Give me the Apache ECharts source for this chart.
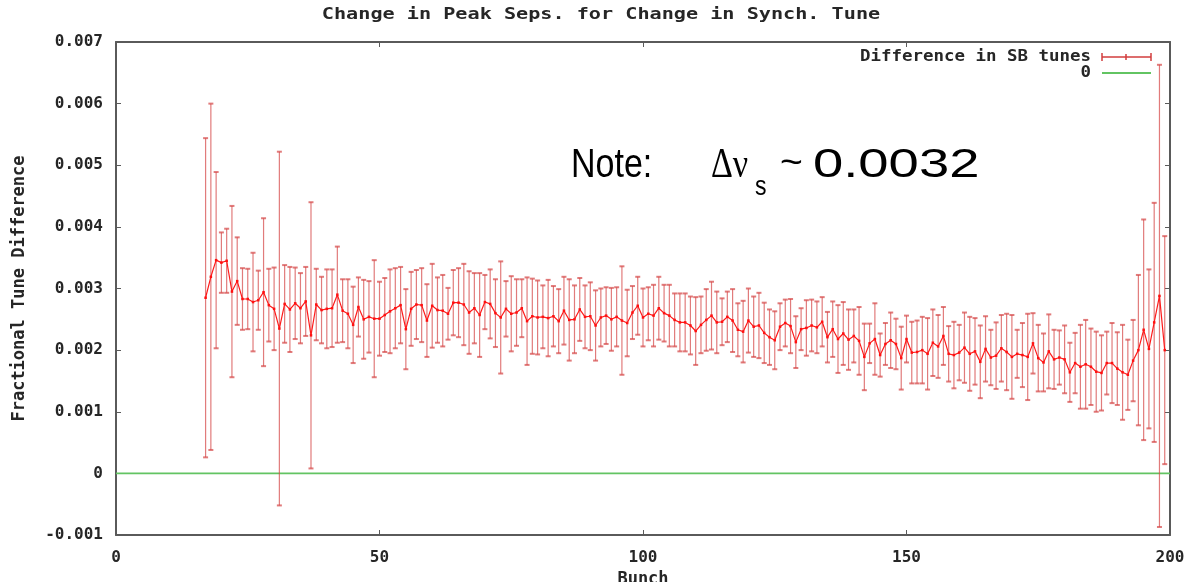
<!DOCTYPE html>
<html><head><meta charset="utf-8">
<script src="https://cdn.jsdelivr.net/npm/echarts@6/dist/echarts.min.js"></script>
<style>html,body{margin:0;padding:0;background:#fff}#c{width:1202px;height:582px}</style>
</head><body><div id="c"></div>
<script>
const titleText = 'Change in Peak Seps. for Change in Synch. Tune';
const xAxisName = 'Bunch';
const yAxisName = 'Fractional Tune Difference';
const seriesNames = ['Difference in SB tunes', '0'];
const noteParts = ['Note:', '\u0394\u03bd', 's', '~', '0.0032'];
const xTickValues = [0, 50, 100, 150, 200];
const yTickValues = [-0.001, 0, 0.001, 0.002, 0.003, 0.004, 0.005, 0.006, 0.007];
const yTickLabels = ['-0.001', '0', '0.001', '0.002', '0.003', '0.004', '0.005', '0.006', '0.007'];

const bunches = [17,18,19,20,21,22,23,24,25,26,27,28,29,30,31,32,33,34,35,36,37,38,39,40,41,42,43,44,45,46,47,48,49,50,
51,52,53,54,55,56,57,58,59,60,61,62,63,64,65,66,67,68,69,70,71,72,73,74,75,76,77,78,79,80,81,82,83,84,85,86,87,88,89,90,
91,92,93,94,95,96,97,98,99,100,101,102,103,104,105,106,107,108,109,110,111,112,113,114,115,116,117,118,119,120,
121,122,123,124,125,126,127,128,129,130,131,132,133,134,135,136,137,138,139,140,141,142,143,144,145,146,147,148,149,150,
151,152,153,154,155,156,157,158,159,160,161,162,163,164,165,166,167,168,169,170,171,172,173,174,175,176,177,178,179,180,
181,182,183,184,185,186,187,188,189,190,191,192,193,194,195,196,197,198,199];

const tuneDiff = [
0.00285,0.00319,0.00346,0.00342,0.00345,0.00295,0.00312,0.00283,0.00283,0.00278,
0.00281,0.00294,0.00273,0.00267,0.00235,0.00275,0.00266,0.00276,0.00268,0.00279,
0.00224,0.00274,0.00265,0.00267,0.00268,0.00290,0.00264,0.00259,0.00241,0.00270,
0.00250,0.00254,0.00251,0.00251,0.00257,0.00263,0.00268,0.00273,0.00234,0.00267,
0.00274,0.00273,0.00248,0.00272,0.00265,0.00264,0.00259,0.00277,0.00277,0.00274,
0.00261,0.00268,0.00257,0.00278,0.00275,0.00260,0.00253,0.00267,0.00259,0.00261,
0.00268,0.00247,0.00255,0.00253,0.00254,0.00252,0.00255,0.00247,0.00264,0.00249,
0.00250,0.00266,0.00254,0.00255,0.00240,0.00253,0.00256,0.00250,0.00254,0.00248,
0.00244,0.00261,0.00272,0.00253,0.00259,0.00256,0.00268,0.00260,0.00256,0.00249,
0.00245,0.00245,0.00240,0.00231,0.00241,0.00249,0.00256,0.00245,0.00246,0.00254,
0.00248,0.00233,0.00230,0.00248,0.00238,0.00240,0.00228,0.00221,0.00216,0.00238,
0.00244,0.00239,0.00213,0.00234,0.00236,0.00240,0.00237,0.00246,0.00221,0.00234,
0.00218,0.00227,0.00217,0.00223,0.00215,0.00189,0.00211,0.00218,0.00192,0.00210,
0.00216,0.00210,0.00187,0.00218,0.00196,0.00197,0.00200,0.00194,0.00212,0.00206,
0.00223,0.00194,0.00192,0.00196,0.00204,0.00194,0.00198,0.00181,0.00202,0.00188,
0.00191,0.00203,0.00197,0.00189,0.00194,0.00192,0.00189,0.00211,0.00187,0.00180,
0.00198,0.00185,0.00188,0.00185,0.00164,0.00179,0.00173,0.00177,0.00173,0.00165,
0.00163,0.00179,0.00179,0.00170,0.00164,0.00160,0.00183,0.00200,0.00233,0.00202,
0.00245,0.00288,0.00200];

const tuneErr = [
0.00259,0.00281,0.00143,0.00049,0.00052,0.00139,0.00071,0.00050,0.00049,0.00080,
0.00048,0.00120,0.00059,0.00067,0.00287,0.00063,0.00069,0.00058,0.00057,0.00056,
0.00216,0.00058,0.00054,0.00064,0.00063,0.00078,0.00051,0.00056,0.00062,0.00048,
0.00064,0.00058,0.00095,0.00060,0.00060,0.00068,0.00065,0.00062,0.00065,0.00060,
0.00056,0.00060,0.00059,0.00068,0.00053,0.00058,0.00042,0.00053,0.00056,0.00066,
0.00067,0.00057,0.00068,0.00044,0.00056,0.00055,0.00091,0.00045,0.00061,0.00054,
0.00047,0.00071,0.00061,0.00060,0.00051,0.00062,0.00049,0.00052,0.00055,0.00066,
0.00055,0.00051,0.00051,0.00055,0.00057,0.00047,0.00046,0.00051,0.00048,0.00088,
0.00054,0.00043,0.00047,0.00047,0.00043,0.00050,0.00051,0.00046,0.00050,0.00043,
0.00047,0.00047,0.00047,0.00055,0.00046,0.00050,0.00055,0.00050,0.00038,0.00041,
0.00051,0.00043,0.00050,0.00052,0.00049,0.00053,0.00049,0.00045,0.00047,0.00038,
0.00038,0.00044,0.00042,0.00034,0.00045,0.00042,0.00042,0.00040,0.00041,0.00045,
0.00055,0.00051,0.00049,0.00043,0.00055,0.00054,0.00032,0.00058,0.00035,0.00034,
0.00045,0.00041,0.00051,0.00038,0.00050,0.00051,0.00054,0.00058,0.00054,0.00051,
0.00047,0.00045,0.00054,0.00045,0.00057,0.00060,0.00054,0.00059,0.00053,0.00045,
0.00054,0.00054,0.00062,0.00068,0.00039,0.00052,0.00070,0.00049,0.00054,0.00047,
0.00060,0.00048,0.00044,0.00055,0.00048,0.00049,0.00068,0.00072,0.00062,0.00065,
0.00061,0.00051,0.00065,0.00059,0.00077,0.00057,0.00066,0.00122,0.00179,0.00129,
0.00194,0.00375,0.00185];

const zeroX = [0, 200];
const zeroY = [0, 0];

const MONO = '"DejaVu Sans Mono", monospace';
const TXT = '#262626';
const AXC = '#5a5a5a';
const ERRC = 'rgba(214,72,72,0.72)';
const SANS = '"Liberation Sans", Arial, sans-serif';

const chart = echarts.init(document.getElementById('c'), null, {renderer: 'canvas'});

function yFmt(v) {
  for (let i = 0; i < yTickValues.length; i++) {
    if (Math.abs(v - yTickValues[i]) < 1e-9) return yTickLabels[i];
  }
  return '';
}

const axisCommonX = {
  type: 'value', min: 0, max: 200, interval: 50,
  axisLine: {show: true, onZero: false, lineStyle: {color: AXC, width: 2}},
  axisTick: {show: true, inside: true, length: 5, lineStyle: {color: AXC, width: 1}},
  splitLine: {show: false}
};
const axisCommonY = {
  type: 'value', min: -0.001, max: 0.007, interval: 0.001,
  axisLine: {show: true, onZero: false, lineStyle: {color: AXC, width: 2}},
  axisTick: {show: true, inside: true, length: 5, lineStyle: {color: AXC, width: 1}},
  splitLine: {show: false}
};

const option = {
  backgroundColor: '#fff',
  animation: false,
  grid: {left: 116, right: 32, top: 42, bottom: 47, containLabel: false, outerBoundsMode: 'none'},
  xAxis: [
    Object.assign({}, axisCommonX, {
      position: 'bottom',
      axisLabel: {margin: 15, fontFamily: MONO, fontSize: 16, fontWeight: 'bold', color: TXT},
      name: xAxisName, nameLocation: 'middle', nameGap: 35,
      nameTextStyle: {fontFamily: MONO, fontSize: 17, fontWeight: 'bold', color: TXT}
    }),
    Object.assign({}, axisCommonX, {position: 'top', axisLabel: {show: false}})
  ],
  yAxis: [
    Object.assign({}, axisCommonY, {
      position: 'left',
      axisLabel: {margin: 13, fontFamily: MONO, fontSize: 16, fontWeight: 'bold', color: TXT, formatter: yFmt},
      name: yAxisName, nameLocation: 'middle', nameGap: 88, nameRotate: 90,
      nameTextStyle: {fontFamily: MONO, fontSize: 17, fontWeight: 'bold', color: TXT}
    }),
    Object.assign({}, axisCommonY, {position: 'right', axisLabel: {show: false}})
  ],
  series: [
    {
      name: seriesNames[1], type: 'line', xAxisIndex: 0, yAxisIndex: 0,
      data: zeroX.map((x, i) => [x, zeroY[i]]),
      symbol: 'none', lineStyle: {color: '#62c462', width: 1.8}, z: 1, silent: true
    },
    {
      name: seriesNames[0] + ' bars', type: 'custom', xAxisIndex: 0, yAxisIndex: 0,
      data: bunches.map((b, i) => [b, tuneDiff[i], tuneErr[i]]),
      z: 2, silent: true,
      renderItem: function (params, api) {
        const x = api.value(0), y = api.value(1), e = api.value(2);
        const t = api.coord([x, y + e]);
        const b = api.coord([x, y - e]);
        const cw = 2.5;
        return {
          type: 'group', children: [
            {type: 'line', shape: {x1: t[0], y1: t[1], x2: b[0], y2: b[1]}, style: {stroke: ERRC, lineWidth: 1.2}},
            {type: 'line', shape: {x1: t[0] - cw, y1: t[1], x2: t[0] + cw, y2: t[1]}, style: {stroke: ERRC, lineWidth: 2}},
            {type: 'line', shape: {x1: b[0] - cw, y1: b[1], x2: b[0] + cw, y2: b[1]}, style: {stroke: ERRC, lineWidth: 2}}
          ]
        };
      }
    },
    {
      name: seriesNames[0], type: 'line', xAxisIndex: 0, yAxisIndex: 0,
      data: bunches.map((b, i) => [b, tuneDiff[i]]),
      symbol: 'rect', symbolSize: 2.5, itemStyle: {color: '#ff1010'},
      lineStyle: {color: '#ff1a1a', width: 1.2}, z: 3, silent: true
    }
  ],
  graphic: [
    {type: 'text', x: 601, y: 15, scaleX: 1.26, silent: true,
     style: {text: titleText, font: 'bold 16px ' + MONO, fill: TXT, align: 'center', verticalAlign: 'middle'}},
    {type: 'text', x: 1091, y: 57, scaleX: 1.09, silent: true,
     style: {text: seriesNames[0], font: 'bold 16px ' + MONO, fill: TXT, align: 'right', verticalAlign: 'middle'}},
    {type: 'text', x: 1091, y: 73, scaleX: 1.09, silent: true,
     style: {text: seriesNames[1], font: 'bold 16px ' + MONO, fill: TXT, align: 'right', verticalAlign: 'middle'}},
    {type: 'line', silent: true, shape: {x1: 1102, y1: 57, x2: 1151, y2: 57}, style: {stroke: '#d23c3c', lineWidth: 1.5}},
    {type: 'line', silent: true, shape: {x1: 1102, y1: 53, x2: 1102, y2: 61}, style: {stroke: '#d23c3c', lineWidth: 1.5}},
    {type: 'line', silent: true, shape: {x1: 1126, y1: 54, x2: 1126, y2: 60}, style: {stroke: '#d23c3c', lineWidth: 1.5}},
    {type: 'line', silent: true, shape: {x1: 1151, y1: 53, x2: 1151, y2: 61}, style: {stroke: '#d23c3c', lineWidth: 1.5}},
    {type: 'line', silent: true, shape: {x1: 1102, y1: 73, x2: 1151, y2: 73}, style: {stroke: '#62c462', lineWidth: 2}},
    {type: 'text', x: 571, y: 166, scaleX: 1.0, scaleY: 1.22, silent: true,
     style: {text: noteParts[0], font: '34px ' + SANS, fill: '#000', align: 'left', verticalAlign: 'middle'}},
    {type: 'text', x: 711, y: 166, scaleY: 1.22, silent: true,
     style: {text: noteParts[1], font: '34px "Liberation Serif", serif', fill: '#000', align: 'left', verticalAlign: 'middle'}},
    {type: 'text', x: 755, y: 187, scaleY: 1.22, silent: true,
     style: {text: noteParts[2], font: '23px ' + SANS, fill: '#000', align: 'left', verticalAlign: 'middle'}},
    {type: 'text', x: 780, y: 164, scaleX: 1.15, scaleY: 1.1, silent: true,
     style: {text: noteParts[3], font: '34px ' + SANS, fill: '#000', align: 'left', verticalAlign: 'middle'}},
    {type: 'text', x: 813, y: 166, scaleX: 1.6, scaleY: 1.22, silent: true,
     style: {text: noteParts[4], font: '34px ' + SANS, fill: '#000', align: 'left', verticalAlign: 'middle'}}
  ]
};
chart.setOption(option);
</script>
</body></html>
